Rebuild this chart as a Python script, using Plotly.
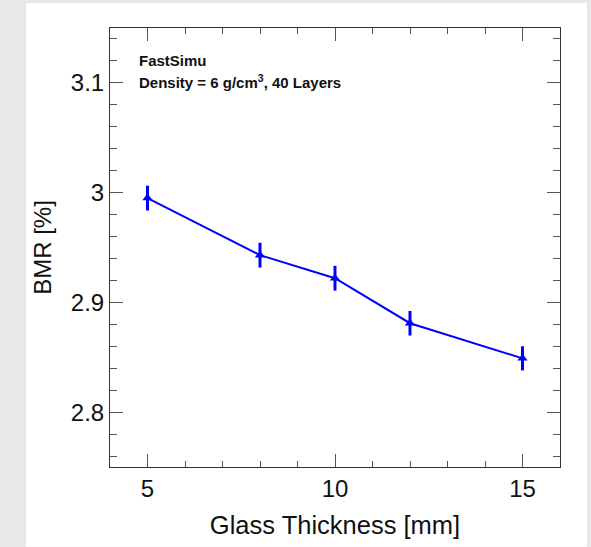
import plotly.graph_objects as go

thickness = [5, 8, 10, 12, 15]
bmr = [2.995, 2.943, 2.922, 2.881, 2.849]
bmr_err = [0.0113, 0.0113, 0.0113, 0.0112, 0.0110]

W, H = 591, 547
ml, mr, mt, mb = 110, 31, 28, 78
pw, ph = W - ml - mr, H - mt - mb

def px(x):
    return (x - ml) / pw

def py(y):
    return (H - mb - y) / ph

FONT = "Liberation Sans, Arial, Helvetica, sans-serif"

fig = go.Figure()
fig.add_trace(go.Scatter(
    x=thickness, y=bmr,
    mode="lines+markers",
    line=dict(color="#0000ff", width=2),
    marker=dict(symbol="triangle-up", size=9, color="#0000ff"),
    error_y=dict(type="data", array=bmr_err, visible=True, color="#0000ff", thickness=3, width=0),
    showlegend=False,
))

axis_common = dict(
    showgrid=False, zeroline=False,
    showline=True, linecolor="#333333", linewidth=1, mirror="allticks",
    ticks="inside", tickcolor="#555555", tickwidth=1,
    tickfont=dict(family=FONT, size=24, color="#111111"),
)

fig.update_xaxes(
    range=[4, 16], tickvals=[5, 10, 15], ticklen=13,
    minor=dict(dtick=1, ticklen=6, ticks="inside", tickcolor="#555555", tickwidth=1),
    title=dict(text="Glass Thickness [mm]", font=dict(family=FONT, size=25.5, color="#111111"), standoff=15),
    **axis_common,
)
fig.update_yaxes(
    range=[2.75, 3.15], tickvals=[2.8, 2.9, 3.0, 3.1], ticktext=["2.8", "2.9", "3", "3.1"], ticklen=13,
    minor=dict(dtick=0.02, tick0=2.8, ticklen=7, ticks="inside", tickcolor="#555555", tickwidth=1),
    title=dict(text="BMR [%]", font=dict(family=FONT, size=24, color="#111111"), standoff=12),
    **axis_common,
)

fig.add_shape(type="rect", xref="paper", yref="paper",
              x0=px(26), x1=px(587), y0=py(H + 2), y1=py(3),
              fillcolor="white", line=dict(width=0), layer="below")

fig.add_annotation(text="<b>FastSimu</b>", xref="paper", yref="paper",
                   x=px(137), y=py(61), xanchor="left", yanchor="middle", showarrow=False,
                   font=dict(family=FONT, size=15, color="#111111"))
fig.add_annotation(text="<b>Density = 6 g/cm<sup>3</sup>, 40 Layers</b>", xref="paper", yref="paper",
                   x=px(137), y=py(82), xanchor="left", yanchor="middle", showarrow=False,
                   font=dict(family=FONT, size=15, color="#111111"))

fig.update_layout(
    width=W, height=H,
    margin=dict(l=ml, r=mr, t=mt, b=mb),
    paper_bgcolor="#e8e8e8", plot_bgcolor="white",
    font=dict(family=FONT),
)

fig.write_html("out.html")
